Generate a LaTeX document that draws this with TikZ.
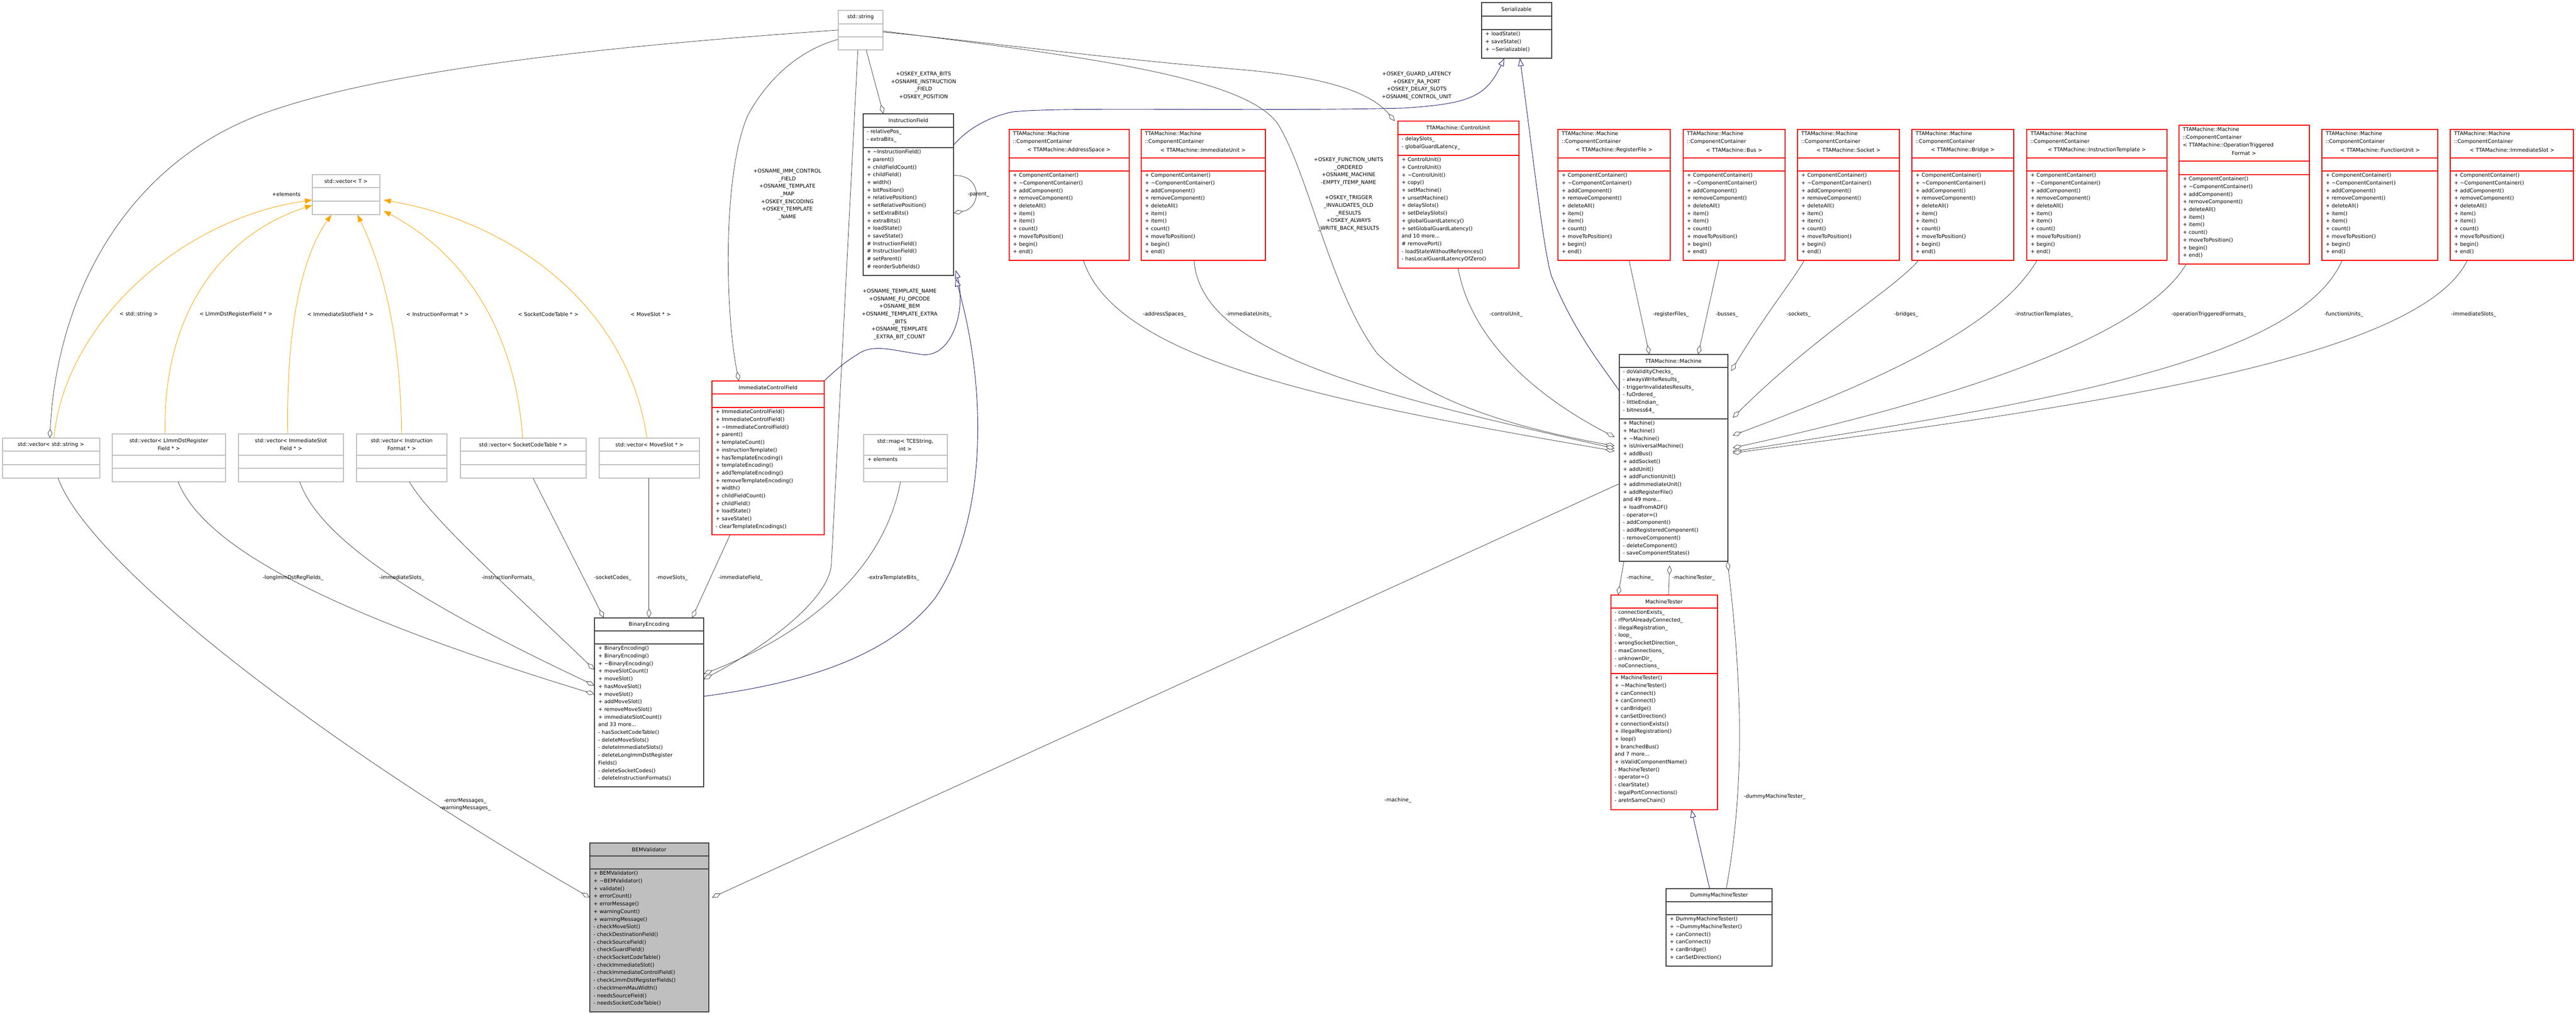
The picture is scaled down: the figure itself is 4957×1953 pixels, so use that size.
\documentclass[tikz,border=0pt]{standalone}
\usepackage{fontspec}
\setmainfont{DejaVu Sans}
\usetikzlibrary{arrows.meta,fit,calc}
\definecolor{dk}{HTML}{404040}
\definecolor{gr}{HTML}{BFBFBF}
\definecolor{mb}{HTML}{191970}
\definecolor{orng}{HTML}{FFA500}
\newcommand\tl{\textasciitilde}
\newcommand\kls[8]{%
  \path[#2] (#3,#4) rectangle (#5,#6);
  \draw[#2,fill=none] (#3,#7) -- (#5,#7) (#3,#8) -- (#5,#8);
  \node[fit={(#3,#4) (#5,#6)},inner sep=0pt] (#1) {};}
\newcommand\mem[3]{\node[txt,anchor=north west,align=left] at (#1,#2) {#3};}
\newcommand\ttl[3]{\node[txt,align=center] at (#1,#2) {#3};}
\newcommand\ccm{+ ComponentContainer()\\+ \tl ComponentContainer()\\+ addComponent()\\+ removeComponent()\\+ deleteAll()\\+ item()\\+ item()\\+ count()\\+ moveToPosition()\\+ begin()\\+ end()}
\begin{document}
\begin{tikzpicture}[x=1pt,y=-1pt,
  txt/.style={inner sep=0pt,font=\fontsize{10}{14.7}\selectfont,text=black},
  lab/.style={txt,align=center},
  redbox/.style={draw=red,line width=1.2pt,fill=white},
  dkbox/.style={draw=dk,line width=1.5pt,fill=white},
  grbox/.style={draw=gr,line width=1.2pt,fill=white},
  bembox/.style={draw=dk,line width=1.5pt,fill=gr},
  agg/.style={draw=dk,line width=0.8pt,{Diamond[open,fill=white,length=18pt,width=9pt]}-},
  inh/.style={draw=mb,line width=0.9pt,{Triangle[open,fill=white,length=15pt,width=11pt]}-},
  tmpl/.style={draw=orng,line width=0.9pt,{Triangle[fill=orng,length=14pt,width=10pt]}-}]
\useasboundingbox (0,0) rectangle (4957,1953);
\fill[white] (0,0) rectangle (4957,1953);

% ---------- boxes ----------
\kls{str}{grbox}{1613}{20}{1699}{96}{46}{71}
\ttl{1656}{33}{std::string}
\kls{ser}{dkbox}{2851}{5}{2986}{112}{31}{57}
\ttl{2918}{18}{Serializable}
\mem{2858}{61}{+ loadState()\\+ saveState()\\+ \tl Serializable()}

\kls{ifld}{dkbox}{1661}{219}{1835}{530}{245}{284}
\ttl{1748}{232}{InstructionField}
\mem{1668}{249}{- relativePos\_\\- extraBits\_}
\mem{1668}{288}{+ \tl InstructionField()\\+ parent()\\+ childFieldCount()\\+ childField()\\+ width()\\+ bitPosition()\\+ relativePosition()\\+ setRelativePosition()\\+ setExtraBits()\\+ extraBits()\\+ loadState()\\+ saveState()\\\# InstructionField()\\\# InstructionField()\\\# setParent()\\\# reorderSubfields()}

\kls{as}{redbox}{1942}{249}{2173}{501}{304}{329}
\mem{1949}{253}{TTAMachine::Machine\\::ComponentContainer}
\ttl{2057}{289}{< TTAMachine::AddressSpace >}
\mem{1949}{333}{\ccm}
\kls{iu}{redbox}{2196}{249}{2435}{501}{304}{329}
\mem{2203}{253}{TTAMachine::Machine\\::ComponentContainer}
\ttl{2315}{289}{< TTAMachine::ImmediateUnit >}
\mem{2203}{333}{\ccm}

\kls{cu}{redbox}{2690}{233}{2923}{516}{259}{299}
\ttl{2806}{246}{TTAMachine::ControlUnit}
\mem{2697}{263}{- delaySlots\_\\- globalGuardLatency\_}
\mem{2697}{303}{+ ControlUnit()\\+ ControlUnit()\\+ \tl ControlUnit()\\+ copy()\\+ setMachine()\\+ unsetMachine()\\+ delaySlots()\\+ setDelaySlots()\\+ globalGuardLatency()\\+ setGlobalGuardLatency()\\and 10 more...\\\# removePort()\\- loadStateWithoutReferences()\\- hasLocalGuardLatencyOfZero()}

\kls{rf}{redbox}{2998}{249}{3214}{501}{304}{329}
\mem{3005}{253}{TTAMachine::Machine\\::ComponentContainer}
\ttl{3106}{289}{< TTAMachine::RegisterFile >}
\mem{3005}{333}{\ccm}
\kls{bus}{redbox}{3239}{249}{3435}{501}{304}{329}
\mem{3246}{253}{TTAMachine::Machine\\::ComponentContainer}
\ttl{3337}{289}{< TTAMachine::Bus >}
\mem{3246}{333}{\ccm}
\kls{sock}{redbox}{3459}{249}{3655}{501}{304}{329}
\mem{3466}{253}{TTAMachine::Machine\\::ComponentContainer}
\ttl{3557}{289}{< TTAMachine::Socket >}
\mem{3466}{333}{\ccm}
\kls{brg}{redbox}{3679}{249}{3875}{501}{304}{329}
\mem{3686}{253}{TTAMachine::Machine\\::ComponentContainer}
\ttl{3777}{289}{< TTAMachine::Bridge >}
\mem{3686}{333}{\ccm}
\kls{itp}{redbox}{3900}{249}{4170}{501}{304}{329}
\mem{3907}{253}{TTAMachine::Machine\\::ComponentContainer}
\ttl{4035}{289}{< TTAMachine::InstructionTemplate >}
\mem{3907}{333}{\ccm}
\kls{otf}{redbox}{4193}{241}{4444}{508}{310}{336}
\mem{4200}{245}{TTAMachine::Machine\\::ComponentContainer\\< TTAMachine::OperationTriggered}
\ttl{4318}{295}{Format >}
\mem{4200}{340}{\ccm}
\kls{fu}{redbox}{4468}{249}{4691}{501}{304}{329}
\mem{4475}{253}{TTAMachine::Machine\\::ComponentContainer}
\ttl{4580}{289}{< TTAMachine::FunctionUnit >}
\mem{4475}{333}{\ccm}
\kls{isl}{redbox}{4715}{249}{4952}{501}{304}{329}
\mem{4722}{253}{TTAMachine::Machine\\::ComponentContainer}
\ttl{4834}{289}{< TTAMachine::ImmediateSlot >}
\mem{4722}{333}{\ccm}

\kls{vecT}{grbox}{601}{336}{731}{413}{361}{387}
\ttl{666}{349}{std::vector< T >}
\kls{vstr}{grbox}{5}{843}{192}{920}{868}{894}
\ttl{98}{856}{std::vector< std::string >}
\kls{vlimm}{grbox}{216}{835}{434}{927}{876}{901}
\ttl{325}{855}{std::vector< LImmDstRegister\\Field * >}
\kls{vimm}{grbox}{459}{835}{661}{927}{876}{901}
\ttl{560}{855}{std::vector< ImmediateSlot\\Field * >}
\kls{vif}{grbox}{686}{835}{860}{927}{876}{901}
\ttl{773}{855}{std::vector< Instruction\\Format * >}
\kls{vsct}{grbox}{886}{843}{1128}{920}{868}{894}
\ttl{1007}{856}{std::vector< SocketCodeTable * >}
\kls{vms}{grbox}{1153}{843}{1346}{920}{868}{894}
\ttl{1250}{856}{std::vector< MoveSlot * >}

\kls{icf}{redbox}{1370}{733}{1586}{1029}{758}{784}
\ttl{1478}{746}{ImmediateControlField}
\mem{1377}{788}{+ ImmediateControlField()\\+ ImmediateControlField()\\+ \tl ImmediateControlField()\\+ parent()\\+ templateCount()\\+ instructionTemplate()\\+ hasTemplateEncoding()\\+ templateEncoding()\\+ addTemplateEncoding()\\+ removeTemplateEncoding()\\+ width()\\+ childFieldCount()\\+ childField()\\+ loadState()\\+ saveState()\\- clearTemplateEncodings()}

\kls{map}{grbox}{1662}{836}{1823}{927}{876}{901}
\ttl{1742}{856}{std::map< TCEString,\\ int >}
\mem{1669}{880}{+ elements}

\kls{be}{dkbox}{1144}{1189}{1354}{1514}{1214}{1239}
\ttl{1249}{1202}{BinaryEncoding}
\mem{1151}{1243}{+ BinaryEncoding()\\+ BinaryEncoding()\\+ \tl BinaryEncoding()\\+ moveSlotCount()\\+ moveSlot()\\+ hasMoveSlot()\\+ moveSlot()\\+ addMoveSlot()\\+ removeMoveSlot()\\+ immediateSlotCount()\\and 33 more...\\- hasSocketCodeTable()\\- deleteMoveSlots()\\- deleteImmediateSlots()\\- deleteLongImmDstRegister\\Fields()\\- deleteSocketCodes()\\- deleteInstructionFormats()}

\kls{bem}{bembox}{1135}{1622}{1364}{1947}{1647}{1672}
\ttl{1249}{1635}{BEMValidator}
\mem{1142}{1676}{+ BEMValidator()\\+ \tl BEMValidator()\\+ validate()\\+ errorCount()\\+ errorMessage()\\+ warningCount()\\+ warningMessage()\\- checkMoveSlot()\\- checkDestinationField()\\- checkSourceField()\\- checkGuardField()\\- checkSocketCodeTable()\\- checkImmediateSlot()\\- checkImmediateControlField()\\- checkLImmDstRegisterFields()\\- checkImemMauWidth()\\- needsSourceField()\\- needsSocketCodeTable()}

\kls{mach}{dkbox}{3116}{682}{3325}{1080}{707}{806}
\ttl{3220}{695}{TTAMachine::Machine}
\mem{3123}{711}{- doValidityChecks\_\\- alwaysWriteResults\_\\- triggerInvalidatesResults\_\\- fuOrdered\_\\- littleEndian\_\\- bitness64\_}
\mem{3123}{810}{+ Machine()\\+ Machine()\\+ \tl Machine()\\+ isUniversalMachine()\\+ addBus()\\+ addSocket()\\+ addUnit()\\+ addFunctionUnit()\\+ addImmediateUnit()\\+ addRegisterFile()\\and 49 more...\\+ loadFromADF()\\- operator=()\\- addComponent()\\- addRegisteredComponent()\\- removeComponent()\\- deleteComponent()\\- saveComponentStates()}

\kls{mt}{redbox}{3100}{1145}{3305}{1558}{1170}{1296}
\ttl{3202}{1158}{MachineTester}
\mem{3107}{1174}{- connectionExists\_\\- rfPortAlreadyConnected\_\\- illegalRegistration\_\\- loop\_\\- wrongSocketDirection\_\\- maxConnections\_\\- unknownDir\_\\- noConnections\_}
\mem{3107}{1300}{+ MachineTester()\\+ \tl MachineTester()\\+ canConnect()\\+ canConnect()\\+ canBridge()\\+ canSetDirection()\\+ connectionExists()\\+ illegalRegistration()\\+ loop()\\+ branchedBus()\\and 7 more...\\+ isValidComponentName()\\- MachineTester()\\- operator=()\\- clearState()\\- legalPortConnections()\\- areInSameChain()}

\kls{dmt}{dkbox}{3206}{1710}{3410}{1859}{1735}{1760}
\ttl{3308}{1723}{DummyMachineTester}
\mem{3213}{1764}{+ DummyMachineTester()\\+ \tl DummyMachineTester()\\+ canConnect()\\+ canConnect()\\+ canBridge()\\+ canSetDirection()}

% ---------- template edges ----------
\draw[tmpl] ($(vecT.north west)+(0,49)$) .. controls (350,420) and (125,620) .. ($(vstr.north west)+(99,0)$);
\draw[tmpl] ($(vecT.north west)+(0,59)$) .. controls (430,450) and (312,600) .. ($(vlimm.north west)+(102,0)$);
\draw[tmpl] ($(vecT.south west)+(37,0)$) .. controls (590,480) and (550,600) .. ($(vimm.north west)+(95,0)$);
\draw[tmpl] ($(vecT.south west)+(87,0)$) .. controls (720,480) and (770,600) .. ($(vif.north west)+(87,0)$);
\draw[tmpl] ($(vecT.north east)+(7,70)$) .. controls (880,480) and (990,620) .. ($(vsct.north west)+(120,0)$);
\draw[tmpl] ($(vecT.north east)+(7,49)$) .. controls (1000,430) and (1210,600) .. ($(vms.north west)+(92,0)$);
\node[lab] at (267,605) {< std::string >};
\node[lab] at (454,605) {< LImmDstRegisterField * >};
\node[lab] at (655,605) {< ImmediateSlotField * >};
\node[lab] at (842,605) {< InstructionFormat * >};
\node[lab] at (1055,605) {< SocketCodeTable * >};
\node[lab] at (1252,605) {< MoveSlot * >};
\node[lab] at (551,374) {+elements};

% ---------- aggregation edges ----------
\draw[agg] ($(vstr.north west)+(91,0)$) .. controls (110,560) and (250,300) .. (531,210) .. controls (800,120) and (1300,80) .. ($(str.north west)+(0,38)$);
\draw[agg] ($(bem.north west)+(0,105)$) .. controls (600,1420) and (170,1080) .. ($(vstr.south west)+(107,0)$);
\node[lab] at (895,1548) {-errorMessages\_\\-warningMessages\_};
\draw[agg] ($(be.north west)+(0,100)$) .. controls (1000,1150) and (830,1000) .. ($(vif.south west)+(102,0)$);
\draw[agg] ($(be.north west)+(0,130)$) .. controls (850,1180) and (620,1050) .. ($(vimm.south west)+(118,0)$);
\draw[agg] ($(be.north west)+(0,147)$) .. controls (700,1200) and (400,1070) .. ($(vlimm.south west)+(127,0)$);
\node[lab] at (564,1112) {-longImmDstRegFields\_};
\node[lab] at (773,1112) {-immediateSlots\_};
\node[lab] at (978,1112) {-instructionFormats\_};
\draw[agg] ($(be.north west)+(18,0)$) -- ($(vsct.south west)+(140,0)$);
\node[lab] at (1179,1112) {-socketCodes\_};
\draw[agg] ($(be.north west)+(105,0)$) -- ($(vms.south west)+(96,0)$);
\node[lab] at (1293,1112) {-moveSlots\_};
\draw[agg] ($(be.north west)+(188,0)$) -- ($(icf.south west)+(35,0)$);
\node[lab] at (1425,1112) {-immediateField\_};
\draw[agg] ($(be.north east)+(0,108)$) .. controls (1550,1220) and (1700,1100) .. ($(map.south west)+(71,0)$);
\node[lab] at (1719,1112) {-extraTemplateBits\_};
\draw[agg] ($(be.north east)+(0,118)$) .. controls (1480,1240) and (1600,1150) .. (1600,1081) -- ($(str.south west)+(38,0)$);
\node[lab] at (1731,605) {+OSNAME\_TEMPLATE\_NAME\\+OSNAME\_FU\_OPCODE\\+OSNAME\_BEM\\+OSNAME\_TEMPLATE\_EXTRA\\\_BITS\\+OSNAME\_TEMPLATE\\\_EXTRA\_BIT\_COUNT};
\draw[agg] ($(icf.north west)+(52,0)$) .. controls (1395,600) and (1390,330) .. (1440,220) .. controls (1490,130) and (1560,90) .. ($(str.north west)+(0,56)$);
\node[lab] at (1515,374) {+OSNAME\_IMM\_CONTROL\\\_FIELD\\+OSNAME\_TEMPLATE\\\_MAP\\+OSKEY\_ENCODING\\+OSKEY\_TEMPLATE\\\_NAME};
\draw[agg] ($(ifld.north west)+(39,0)$) -- ($(str.south west)+(54,0)$);
\node[lab] at (1777,165) {+OSKEY\_EXTRA\_BITS\\+OSNAME\_INSTRUCTION\\\_FIELD\\+OSKEY\_POSITION};
\draw[agg] ($(ifld.north east)+(0,191)$) .. controls (1890,400) and (1890,335) .. ($(ifld.north east)+(0,119)$);
\node[lab,anchor=west] at (1862,374) {-parent\_};
\draw[agg] ($(cu.north west)+(-6,0)$) .. controls (2640,180) and (2560,150) .. (2400,135) .. controls (2100,110) and (1850,75) .. ($(str.north east)+(0,42)$);
\node[lab] at (2726,165) {+OSKEY\_GUARD\_LATENCY\\+OSKEY\_RA\_PORT\\+OSKEY\_DELAY\_SLOTS\\+OSNAME\_CONTROL\_UNIT};
\draw[agg] ($(mach.north west)+(-9,176)$) .. controls (2950,830) and (2750,780) .. (2650,680) .. controls (2560,560) and (2520,340) .. (2460,240) .. controls (2400,150) and (2100,110) .. ($(str.north east)+(0,40)$);
\node[lab] at (2595,374) {+OSKEY\_FUNCTION\_UNITS\\\_ORDERED\\+OSNAME\_MACHINE\\-EMPTY\_ITEMP\_NAME\\ \\+OSKEY\_TRIGGER\\\_INVALIDATES\_OLD\\\_RESULTS\\+OSKEY\_ALWAYS\\\_WRITE\_BACK\_RESULTS};
\draw[agg] ($(mach.north west)+(-9,159)$) .. controls (2950,760) and (2830,650) .. ($(cu.south west)+(116,0)$);
\node[lab] at (2898,605) {-controlUnit\_};
\draw[agg] ($(mach.north west)+(-9,186)$) .. controls (2600,780) and (2150,700) .. ($(as.south west)+(143,0)$);
\node[lab] at (2241,605) {-addressSpaces\_};
\draw[agg] ($(mach.north west)+(-9,181)$) .. controls (2650,760) and (2310,680) .. ($(iu.south west)+(102,0)$);
\node[lab] at (2403,605) {-immediateUnits\_};
\draw[agg] ($(mach.north west)+(58,0)$) -- ($(rf.south west)+(137,0)$);
\node[lab] at (3215,605) {-registerFiles\_};
\draw[agg] ($(mach.north west)+(152,0)$) -- ($(bus.south west)+(69,0)$);
\node[lab] at (3323,605) {-busses\_};
\draw[agg] ($(mach.north east)+(6,32)$) .. controls (3400,600) and (3450,540) .. ($(sock.south west)+(13,0)$);
\node[lab] at (3461,605) {-sockets\_};
\draw[agg] ($(mach.north east)+(9,122)$) .. controls (3500,640) and (3640,560) .. ($(brg.south west)+(13,0)$);
\node[lab] at (3668,605) {-bridges\_};
\draw[agg] ($(mach.north east)+(9,156)$) .. controls (3650,720) and (3850,620) .. ($(itp.south west)+(20,0)$);
\node[lab] at (3933,605) {-instructionTemplates\_};
\draw[agg] ($(mach.north east)+(9,180)$) .. controls (3800,760) and (4130,640) .. ($(otf.south west)+(14,0)$);
\node[lab] at (4250,605) {-operationTriggeredFormats\_};
\draw[agg] ($(mach.north east)+(9,187)$) .. controls (3900,780) and (4420,700) .. ($(fu.south west)+(39,0)$);
\node[lab] at (4510,605) {-functionUnits\_};
\draw[agg] ($(mach.north east)+(9,190)$) .. controls (3950,790) and (4650,700) .. ($(isl.south west)+(33,0)$);
\node[lab] at (4760,605) {-immediateSlots\_};
\draw[agg] ($(bem.north east)+(6,105)$) -- ($(mach.north west)+(0,249)$);
\node[lab] at (2690,1540) {-machine\_};
\draw[agg] ($(mt.north west)+(14,0)$) -- ($(mach.south west)+(9,0)$);
\node[lab,anchor=west] at (3130,1112) {-machine\_};
\draw[agg] ($(mach.south west)+(97,8)$) -- ($(mt.north west)+(111,0)$);
\node[lab,anchor=west] at (3218,1112) {-machineTester\_};
\draw[agg] ($(mach.south east)+(-1,0)$) .. controls (3350,1300) and (3360,1500) .. ($(dmt.north west)+(116,0)$);
\node[lab] at (3415,1533) {-dummyMachineTester\_};

% ---------- inheritance edges ----------
\draw[inh] ($(ser.south west)+(44,0)$) .. controls (2860,185) and (2830,200) .. (2700,208) .. controls (2400,215) and (2050,205) .. (1950,215) .. controls (1900,225) and (1860,250) .. ($(ifld.north east)+(0,60)$);
\draw[inh] ($(ser.south west)+(74,0)$) .. controls (2950,300) and (2970,480) .. (2985,530) .. controls (3030,640) and (3080,700) .. ($(mach.north west)+(0,70)$);
\draw[inh] ($(ifld.south east)+(4,-10)$) .. controls (1860,600) and (1830,690) .. (1773,682) .. controls (1720,675) and (1680,660) .. (1650,682) .. controls (1620,700) and (1600,720) .. (icf.north east);
\draw[inh] ($(ifld.south east)+(4,6)$) .. controls (1900,750) and (1900,1000) .. (1800,1150) .. controls (1700,1280) and (1500,1320) .. ($(be.north east)+(0,151)$);
\draw[inh] ($(mt.south west)+(155,0)$) -- ($(dmt.north west)+(84,0)$);
\end{tikzpicture}
\end{document}
